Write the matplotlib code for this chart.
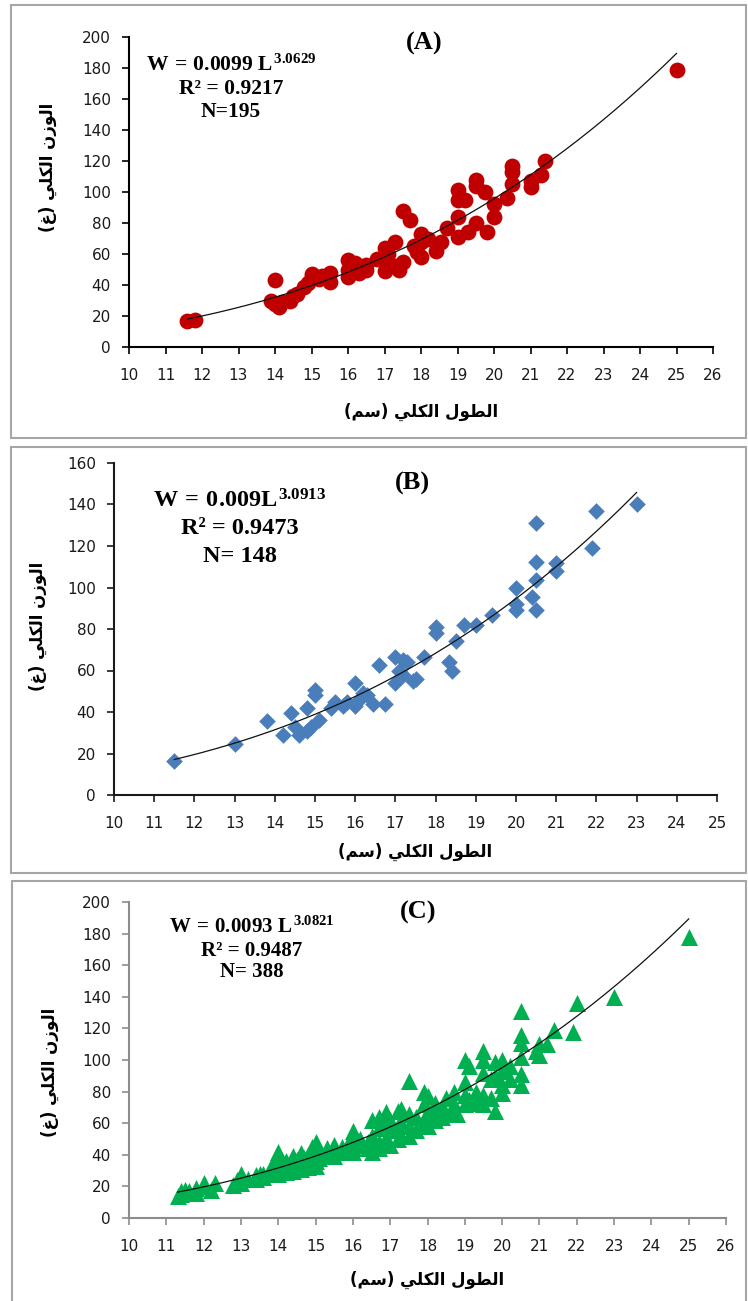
import numpy as np
import matplotlib
matplotlib.use("Agg")
import matplotlib.pyplot as plt
from matplotlib.patches import Rectangle

plt.rcParams['font.family'] = ['DejaVu Sans']
plt.rcParams['mathtext.fontset'] = 'custom'
plt.rcParams['mathtext.rm'] = 'Liberation Serif:bold'
plt.rcParams['mathtext.it'] = 'Liberation Serif:bold'
plt.rcParams['mathtext.bf'] = 'Liberation Serif:bold'

# ---- data (total length cm, total weight g) ----
len_a = [11.6, 11.8, 13.9, 14.0, 14.0, 14.1, 14.2, 14.4, 14.5, 14.6,
         14.8, 14.9, 15.0, 15.0, 15.2, 15.3, 15.5, 15.5, 16.0, 16.0,
         16.0, 16.1, 16.2, 16.3, 16.5, 16.5, 16.8, 17.0, 17.0, 17.0,
         17.1, 17.3, 17.3, 17.4, 17.5, 17.5, 17.7, 17.8, 17.9, 18.0,
         18.0, 18.0, 18.2, 18.4, 18.55, 18.7, 19.0, 19.0, 19.0, 19.0,
         19.2, 19.3, 19.5, 19.5, 19.5, 19.75, 19.8, 20.0, 20.0, 20.35,
         20.5, 20.5, 20.5, 21.0, 21.0, 21.3, 21.4, 25.0]
wt_a = [16.5, 17.7, 30, 43, 28, 26, 29, 30, 33, 34,
        39, 41, 45, 47, 44, 46, 48, 42, 56, 45,
        50, 52, 54, 48, 50, 53, 57, 64, 49, 58,
        60, 68, 52, 50, 55, 88, 82, 65, 61, 73,
        58, 68, 70, 62, 68, 77, 84, 71, 95, 101,
        95, 74, 108, 104, 80, 100, 74, 84, 92, 96,
        117, 113, 105, 107, 103, 111, 120, 179]

len_b = [11.5, 13.0, 13.8, 14.2, 14.4, 14.5, 14.6, 14.8, 14.8, 15.0,
         15.0, 15.1, 14.9, 15.4, 15.5, 15.7, 15.8, 16.0, 16.0, 16.1,
         16.2, 16.3, 16.45, 16.6, 16.75, 17.0, 17.0, 17.1, 17.2, 17.2,
         17.3, 17.45, 17.5, 17.7, 18.0, 18.0, 18.33, 18.4, 18.5, 18.7,
         19.0, 19.4, 20.0, 20.0, 20.0, 20.4, 20.5, 20.5, 20.5, 20.5,
         21.0, 21.0, 21.9, 22.0, 23.0]
wt_b = [16.5, 24.6, 35.7, 29, 39.4, 33, 29, 41.8, 31, 50.6,
        48, 36, 33, 42, 45, 43, 45, 53.8, 43, 46,
        49, 48, 44, 62.6, 44, 66.7, 54, 60, 58, 65,
        64, 55, 56, 66.7, 81, 78, 64, 60, 74, 82,
        82, 86.7, 99.6, 92, 89, 95.6, 103.6, 112.4, 131, 89,
        111.7, 108, 119, 137, 140]

len_c = [11.3, 11.4, 11.4, 11.5, 11.5, 11.6, 11.8, 11.8, 12.0, 12.0,
         12.2, 12.3, 12.8, 12.9, 13.0, 13.0, 13.0, 13.2, 13.4, 13.4,
         13.5, 13.6, 13.6, 13.8, 13.8, 13.8, 13.9, 13.9, 14.0, 14.0,
         14.0, 14.0, 14.0, 14.1, 14.1, 14.2, 14.2, 14.2, 14.4, 14.4,
         14.4, 14.5, 14.5, 14.6, 14.6, 14.6, 14.7, 14.7, 14.8, 14.8,
         14.8, 14.9, 14.9, 15.0, 15.0, 15.0, 15.0, 15.0, 15.1, 15.1,
         15.3, 15.3, 15.5, 15.5, 15.5, 15.7, 15.7, 15.9, 15.9, 16.0,
         16.0, 16.0, 16.0, 16.0, 16.2, 16.2, 16.4, 16.4, 16.5, 16.5,
         16.5, 16.7, 16.7, 16.7, 16.7, 16.9, 16.9, 16.9, 17.0, 17.0,
         17.0, 17.2, 17.2, 17.2, 17.3, 17.3, 17.3, 17.5, 17.5, 17.5,
         17.5, 17.7, 17.7, 17.9, 17.9, 17.9, 18.0, 18.0, 18.0, 18.0,
         18.2, 18.2, 18.2, 18.4, 18.4, 18.5, 18.5, 18.7, 18.7, 18.7,
         18.8, 19.0, 19.0, 19.0, 19.0, 19.1, 19.1, 19.3, 19.3, 19.5,
         19.5, 19.5, 19.5, 19.5, 19.7, 19.7, 19.8, 19.8, 19.8, 20.0,
         20.0, 20.0, 20.0, 20.2, 20.2, 20.5, 20.5, 20.5, 20.5, 20.5,
         20.5, 20.9, 21.0, 21.0, 21.2, 21.4, 21.9, 22.0, 23.0, 25.0]
wt_c = [14, 15, 17, 18, 16, 17, 19, 16, 20, 22,
        18, 22, 21, 24, 28, 25, 22, 25, 27, 25,
        28, 26, 28, 30, 28, 32, 35, 37, 42, 38,
        33, 30, 28, 35, 31, 36, 33, 29, 39, 34,
        30, 37, 32, 41, 35, 31, 38, 34, 40, 36,
        32, 45, 38, 48, 44, 40, 36, 33, 42, 38,
        44, 40, 46, 42, 39, 45, 42, 48, 44, 55,
        52, 48, 44, 42, 50, 46, 48, 44, 62, 52,
        42, 64, 57, 48, 44, 67, 60, 50, 62, 56,
        46, 68, 58, 50, 69, 61, 52, 87, 66, 58,
        52, 64, 56, 80, 72, 60, 77, 68, 62, 58,
        73, 66, 62, 70, 64, 76, 66, 80, 72, 68,
        66, 100, 86, 78, 72, 96, 75, 80, 73, 106,
        100, 92, 78, 72, 88, 76, 99, 90, 68, 100,
        93, 84, 79, 96, 88, 131, 116, 111, 102, 91,
        84, 106, 110, 103, 110, 119, 118, 136, 140, 178]

# fitted W = a * L^b for each panel
coef = [0.0099, 0.009, 0.0093]
expo = [3.0629, 3.0913, 3.0821]
eq_lines = [r"$W\,=\,0.0099\ L^{3.0629}$", r"$W\,=\,0.009L^{3.0913}$", r"$W\,=\,0.0093\ L^{3.0821}$"]
r2_lines = ["R\u00b2 = 0.9217", "R\u00b2 = 0.9473", "R\u00b2 = 0.9487"]
n_lines = ["N=195", "N= 148", "N= 388"]
tags = ["(A)", "(B)", "(C)"]

# Arabic labels, shaped into presentation forms, visual (left-to-right) order
# "الطول الكلي (سم)" and "الوزن الكلي (غ)"
xlab = "(\uFEE2\uFEB3) \uFEF2\uFEE0\uFEDC\uFEDF\uFE8D \uFEDD\uFEEE\uFEC4\uFEDF\uFE8D"
ylab = "(\uFECD) \uFEF2\uFEE0\uFEDC\uFEDF\uFE8D \uFEE5\uFEAF\uFEEE\uFEDF\uFE8D"

W, H = 748, 1301
fig = plt.figure(figsize=(W / 100, H / 100), dpi=100)


def fx(px):
    return px / W


def fy(py):
    return 1 - py / H


def add_ax(left, top, right, bottom):
    return fig.add_axes([fx(left), fy(bottom), (right - left) / W, (bottom - top) / H])


# panel frames
for (l, t, r, b) in [(11, 5, 746, 438), (11, 447, 746, 873), (12, 881, 746, 1320)]:
    fig.patches.append(Rectangle((fx(l), fy(b)), (r - l) / W, (b - t) / H,
                                 transform=fig.transFigure, fill=False,
                                 edgecolor='#a6a6a6', linewidth=1.5))

panels = [
    dict(box=(129, 37, 713, 347), xmax=26, ymax=200, ystep=20, x=len_a, y=wt_a,
         marker='o', s=130, color='#C00000', spine='#000000',
         eq_x=231, eq_y=(71, 94, 117), eq_fs=15.5, tag_xy=(424, 43),
         xlab_y=412, ylab_xy=(48, 167)),
    dict(box=(114, 463, 717, 795), xmax=25, ymax=160, ystep=20, x=len_b, y=wt_b,
         marker='D', s=72, color='#4A7EBB', spine='#1a1a1a',
         eq_x=240, eq_y=(508, 534, 562), eq_fs=17.5, tag_xy=(412, 483),
         xlab_y=852, ylab_xy=(38, 626)),
    dict(box=(129, 902, 726, 1218), xmax=26, ymax=200, ystep=20, x=len_c, y=wt_c,
         marker='^', s=150, color='#00B050', spine='#8c8c8c',
         eq_x=252, eq_y=(933, 956, 977), eq_fs=15, tag_xy=(418, 912),
         xlab_y=1280, ylab_xy=(50, 1072)),
]

for i, p in enumerate(panels):
    ax = add_ax(*p['box'])
    ax.scatter(p['x'], p['y'], marker=p['marker'], s=p['s'], color=p['color'],
               linewidths=0, zorder=2)
    xs = np.linspace(min(p['x']), max(p['x']), 200)
    ax.plot(xs, coef[i] * xs ** expo[i], color='#111111', linewidth=0.9, zorder=3)

    ax.set_xlim(10, p['xmax'])
    ax.set_ylim(0, p['ymax'])
    ax.set_xticks(range(10, p['xmax'] + 1))
    ax.set_yticks(range(0, p['ymax'] + 1, p['ystep']))
    for side in ['top', 'right']:
        ax.spines[side].set_visible(False)
    for side in ['left', 'bottom']:
        ax.spines[side].set_color(p['spine'])
        ax.spines[side].set_linewidth(1.5)
    ax.spines['bottom'].set_zorder(4)
    ax.tick_params(axis='both', direction='out', length=5, width=1.2,
                   color=p['spine'], labelsize=11, labelcolor='#1a1a1a')
    ax.tick_params(axis='x', pad=10)
    ax.tick_params(axis='y', pad=8)
    ax.set_facecolor('none')

    # equation block
    ex = p['eq_x']
    fig.text(fx(ex), fy(p['eq_y'][0]), eq_lines[i], ha='center', va='baseline',
             fontsize=p['eq_fs'])
    fig.text(fx(ex), fy(p['eq_y'][1]), r2_lines[i], ha='center', va='baseline',
             fontsize=p['eq_fs'], family='Liberation Serif', weight='bold')
    fig.text(fx(ex), fy(p['eq_y'][2]), n_lines[i], ha='center', va='baseline',
             fontsize=p['eq_fs'], family='Liberation Serif', weight='bold')
    fig.text(fx(p['tag_xy'][0]), fy(p['tag_xy'][1]), tags[i], ha='center', va='center',
             fontsize=19, family='Liberation Serif', weight='bold')

    # axis titles
    cx = (p['box'][0] + p['box'][2]) / 2
    fig.text(fx(cx), fy(p['xlab_y']), xlab, ha='center', va='center',
             fontsize=12, weight='bold', family='DejaVu Sans')
    fig.text(fx(p['ylab_xy'][0]), fy(p['ylab_xy'][1]), ylab, ha='center', va='center',
             rotation=90, fontsize=12, weight='bold', family='DejaVu Sans')

fig.savefig('out.png', dpi=100)
